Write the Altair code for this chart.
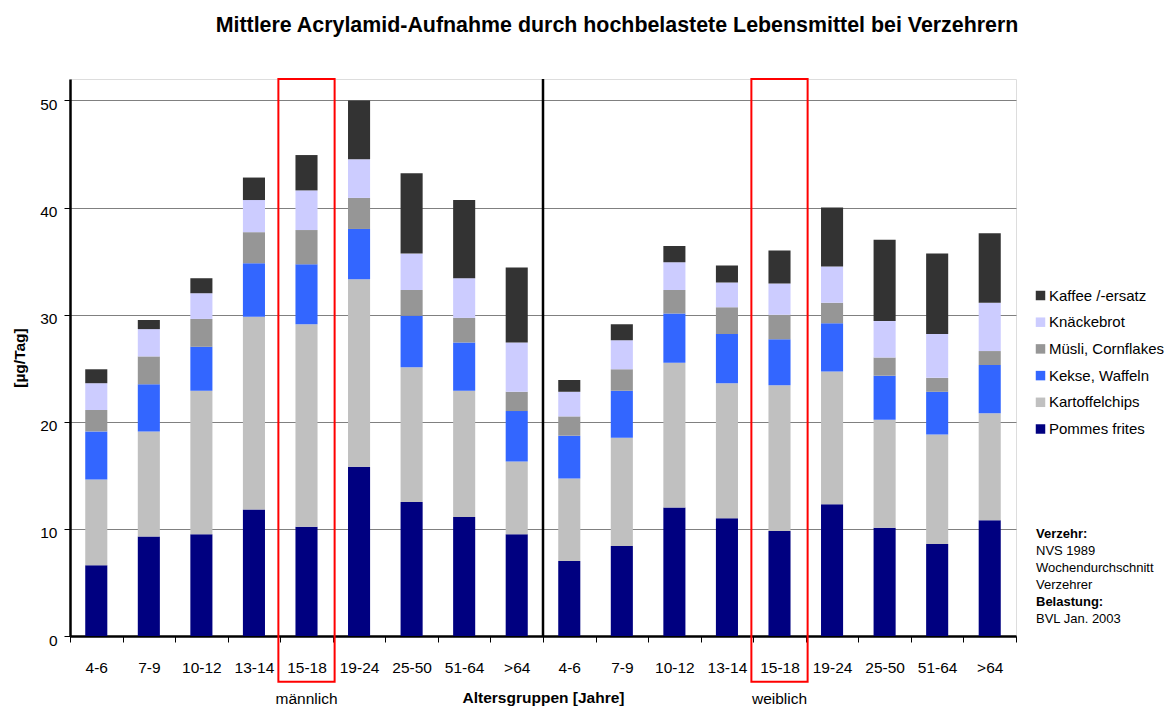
import altair as alt
import pandas as pd

FONT = "Liberation Sans, Arial, sans-serif"

ages = ["4-6", "7-9", "10-12", "13-14", "15-18", "19-24", "25-50", "51-64", ">64"]
sexes = ["m", "w"]
foods = ["Pommes frites", "Kartoffelchips", "Kekse, Waffeln",
         "Müsli, Cornflakes", "Knäckebrot", "Kaffee /-ersatz"]
colors = ["#000080", "#C0C0C0", "#3366FF", "#969696", "#CCCCFF", "#333333"]

# values [µg/Tag] per food, male
m_pommes = [6.6, 9.3, 9.5, 11.8, 10.2, 15.8, 12.5, 11.1, 9.5]
m_chips = [8.0, 9.8, 13.4, 18.0, 18.9, 17.5, 12.6, 11.8, 6.8]
m_kekse = [4.5, 4.4, 4.1, 5.0, 5.6, 4.7, 4.8, 4.5, 4.7]
m_muesli = [2.0, 2.6, 2.6, 2.9, 3.2, 2.9, 2.4, 2.3, 1.8]
m_knaecke = [2.5, 2.55, 2.4, 3.0, 3.7, 3.6, 3.4, 3.7, 4.6]
m_kaffee = [1.3, 0.85, 1.4, 2.1, 3.3, 5.5, 7.5, 7.3, 7.0]
# female
w_pommes = [7.0, 8.4, 12.0, 11.0, 9.8, 12.3, 10.1, 8.6, 10.8]
w_chips = [7.7, 10.1, 13.5, 12.6, 13.6, 12.4, 10.1, 10.2, 10.0]
w_kekse = [4.0, 4.4, 4.6, 4.6, 4.3, 4.5, 4.1, 4.0, 4.5]
w_muesli = [1.8, 2.0, 2.2, 2.5, 2.3, 1.9, 1.7, 1.3, 1.3]
w_knaecke = [2.3, 2.7, 2.6, 2.3, 2.9, 3.4, 3.4, 4.1, 4.5]
w_kaffee = [1.1, 1.5, 1.5, 1.6, 3.1, 5.5, 7.6, 7.5, 6.5]

series = {
    "m": [m_pommes, m_chips, m_kekse, m_muesli, m_knaecke, m_kaffee],
    "w": [w_pommes, w_chips, w_kekse, w_muesli, w_knaecke, w_kaffee],
}

cats = [f"{a}|{s}" for s in sexes for a in ages]

rows = []
for s in sexes:
    for fi, food in enumerate(foods):
        for ai, a in enumerate(ages):
            rows.append({"cat": f"{a}|{s}", "food": food, "order": fi,
                         "value": series[s][fi][ai]})
df = pd.DataFrame(rows)

xscale = alt.Scale(domain=cats, paddingInner=0, paddingOuter=0)
yscale = alt.Scale(domain=[0, 52], nice=False, zero=True)

bars = alt.Chart(df).mark_bar(width={"band": 0.42}).encode(
    x=alt.X("cat:N", scale=xscale, sort=cats,
            axis=alt.Axis(title="Altersgruppen [Jahre]",
                          labelExpr="isString(datum.value) ? split(datum.value, '|')[0] : ''",
                          labelAngle=0, labelFontSize=15.5, labelFont=FONT,
                          labelColor="black", labelPadding=18,
                          tickBand="extent", tickSize=6, tickColor="black",
                          domainColor="black", domainWidth=2.5,
                          titleFont=FONT, titleFontSize=15.5, titleFontWeight="bold",
                          titleColor="black", titlePadding=15, grid=False)),
    y=alt.Y("sum(value):Q", scale=yscale, stack="zero",
            axis=alt.Axis(title="[µg/Tag]", values=[0, 10, 20, 30, 40, 50],
                          labelFontSize=15.5, labelFont=FONT, labelColor="black",
                          labelPadding=7, labelOffset=4,
                          tickSize=6, tickColor="black",
                          domainColor="black", domainWidth=2.5,
                          grid=True, gridColor="#808080", gridWidth=1,
                          titleFont=FONT, titleFontSize=15.5, titleFontWeight="bold",
                          titleColor="black", titlePadding=12)),
    color=alt.Color("food:N",
                    scale=alt.Scale(domain=foods[::-1], range=colors[::-1]),
                    legend=alt.Legend(title=None, orient="none", legendX=963,
                                      legendY=209, padding=0,
                                      symbolType="square", symbolSize=90,
                                      symbolStrokeWidth=0, symbolOpacity=1,
                                      labelFont=FONT, labelFontSize=15,
                                      labelColor="black", labelOffset=1,
                                      rowPadding=10.7)),
    order=alt.Order("order:Q", sort="ascending"),
)

div_df = pd.DataFrame({"cat": ["4-6|w"], "top": [52], "bottom": [0]})
divider = alt.Chart(div_df).mark_rule(color="black", strokeWidth=2.5).encode(
    x=alt.X("cat:N", scale=xscale, sort=cats, bandPosition=0),
    y=alt.Y("top:Q", scale=yscale),
    y2="bottom:Q",
)

hl_df = pd.DataFrame({"cat": ["15-18|m", "15-18|w"], "top": [52, 52],
                      "bottom": [-4.27, -4.27]})
highlight = alt.Chart(hl_df).mark_bar(width={"band": 1.07}, fill="transparent",
                                      stroke="#FF0000", strokeWidth=2).encode(
    x=alt.X("cat:N", scale=xscale, sort=cats),
    y=alt.Y("top:Q", scale=yscale),
    y2="bottom:Q",
)

sex_df = pd.DataFrame({"cat": ["15-18|m", "15-18|w"], "lab": ["männlich", "weiblich"]})
sex_labels = alt.Chart(sex_df).mark_text(font=FONT, fontSize=15.5, color="black",
                                         baseline="alphabetic").encode(
    x=alt.X("cat:N", scale=xscale, sort=cats),
    y=alt.value(625),
    text="lab:N",
)

note_lines = [("Verzehr:", "bold"), ("NVS 1989", "normal"),
              ("Wochendurchschnitt", "normal"), ("Verzehrer", "normal"),
              ("Belastung:", "bold"), ("BVL Jan. 2003", "normal")]
notes = []
for i, (t, w) in enumerate(note_lines):
    notes.append(
        alt.Chart(pd.DataFrame({"t": [t]})).mark_text(
            font=FONT, fontSize=13, fontWeight=w, color="black",
            align="left", baseline="alphabetic").encode(
            x=alt.value(966), y=alt.value(458.7 + 17 * i), text="t:N")
    )

chart = alt.layer(bars, divider, highlight, sex_labels, *notes).properties(
    width=946, height=557,
    autosize=alt.AutoSizeParams(type="none"),
    padding={"left": 62, "top": 71, "right": 150, "bottom": 71},
    title=alt.TitleParams(
        "Mittlere Acrylamid-Aufnahme durch hochbelastete Lebensmittel bei Verzehrern",
        font=FONT, fontSize=21.4, fontWeight="bold", color="black",
        anchor="middle", dx=74, offset=41),
).configure_view(stroke="black", strokeWidth=2).configure(background="white")

chart.save("out.html", embed_options={"renderer": "svg", "actions": False})
